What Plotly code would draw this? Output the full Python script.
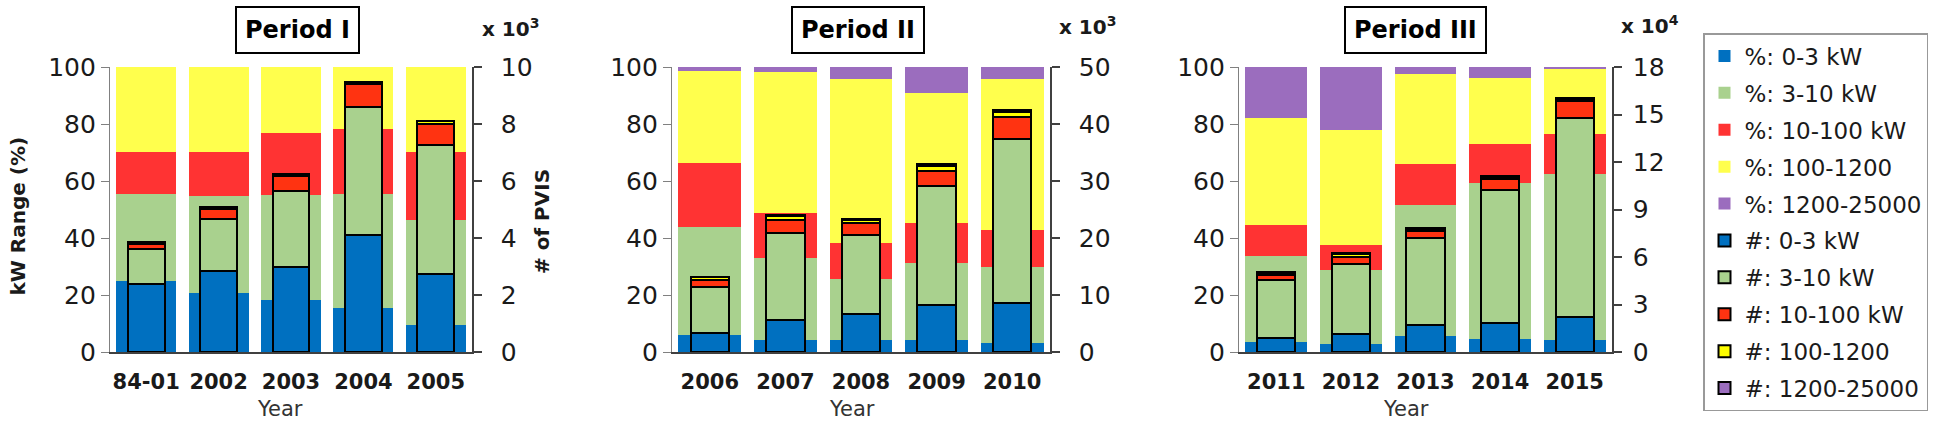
import plotly.graph_objects as go

# ---------------- data ----------------
series = ["0-3 kW", "3-10 kW", "10-100 kW", "100-1200", "1200-25000"]

p1_years = ["84-01", "2002", "2003", "2004", "2005"]
p2_years = ["2006", "2007", "2008", "2009", "2010"]
p3_years = ["2011", "2012", "2013", "2014", "2015"]

# kW range share (%), one list per size class (in series order)
p1_pct = [
    [25.0, 20.7, 18.1, 15.6, 9.6],
    [30.6, 33.9, 36.9, 40.0, 36.6],
    [14.6, 15.6, 22.0, 22.8, 24.0],
    [29.8, 29.8, 23.0, 21.6, 29.8],
    [0.0, 0.0, 0.0, 0.0, 0.0],
]
p2_pct = [
    [6.1, 4.3, 4.3, 4.3, 3.2],
    [37.8, 28.7, 21.4, 27.0, 26.6],
    [22.4, 15.9, 12.5, 14.1, 13.1],
    [32.3, 49.3, 57.7, 45.5, 53.0],
    [1.4, 1.8, 4.1, 9.1, 4.1],
]
p3_pct = [
    [3.5, 2.9, 5.5, 4.7, 4.3],
    [30.1, 25.8, 46.0, 54.6, 58.0],
    [10.8, 9.0, 14.3, 13.6, 14.3],
    [37.7, 40.3, 31.9, 23.4, 22.8],
    [17.9, 22.0, 2.3, 3.7, 0.6],
]

# number of PVIS (Period I & II in 10^3, Period III in 10^4)
p1_cnt = [
    [2.40, 2.84, 2.98, 4.09, 2.75],
    [1.23, 1.84, 2.67, 4.51, 4.50],
    [0.15, 0.35, 0.53, 0.79, 0.74],
    [0.07, 0.06, 0.08, 0.08, 0.11],
    [0.0, 0.0, 0.0, 0.0, 0.0],
]
p2_cnt = [
    [3.3, 5.7, 6.6, 8.2, 8.6],
    [8.1, 15.1, 14.0, 20.9, 28.8],
    [1.2, 2.3, 2.0, 2.7, 3.8],
    [0.5, 0.8, 0.6, 0.8, 0.9],
    [0.1, 0.2, 0.2, 0.3, 0.4],
]
p3_cnt = [
    [0.90, 1.15, 1.69, 1.85, 2.21],
    [3.62, 4.43, 5.53, 8.41, 12.59],
    [0.32, 0.42, 0.42, 0.64, 1.04],
    [0.15, 0.18, 0.15, 0.15, 0.16],
    [0.06, 0.07, 0.06, 0.05, 0.06],
]

titles = ["Period I", "Period II", "Period III"]
right_ranges = [[0, 10], [0, 50], [0, 18]]
right_dticks = [2, 10, 3]
right_exp = ["3", "3", "4"]

# ---------------- styling ----------------
pct_colors = ["#0070C0", "#A9D18E", "#FF3333", "#FFFF4D", "#9B6DBE"]
cnt_colors = ["#0070C0", "#A9D18E", "#FF3311", "#FFFF00", "#9B6DBE"]
FONT = "DejaVu Sans"
TXT = "#1a1a1a"
W, H = 1946, 432

x_domains = [[110 / W, 472 / W], [672 / W, 1050 / W], [1239 / W, 1612 / W]]
y_domain = [1 - 352 / H, 1 - 67 / H]
title_x = [297, 858, 1415]
exp_x = [511, 1087, 1650]
exp_y = [28, 26, 25]
year_x = [280, 852, 1406]
right_standoff = [14, 14, 6]

fig = go.Figure()
panels = [(p1_years, p1_pct, p1_cnt), (p2_years, p2_pct, p2_cnt), (p3_years, p3_pct, p3_cnt)]

for i, (years, pct, cnt) in enumerate(panels):
    xa = "x" if i == 0 else f"x{i + 1}"
    ya = "y" if i == 0 else f"y{2 * i + 1}"
    ya2 = f"y{2 * i + 2}"
    for s in range(5):
        fig.add_trace(go.Bar(
            x=years, y=pct[s], xaxis=xa, yaxis=ya, width=0.83,
            marker=dict(color=pct_colors[s], line=dict(width=0)),
            name="%: " + series[s], legendgroup="pct" + str(s),
            showlegend=(i == 0)))
    for s in range(5):
        fig.add_trace(go.Bar(
            x=years, y=cnt[s], xaxis=xa, yaxis=ya2, width=0.51,
            marker=dict(color=cnt_colors[s], line=dict(color="black", width=2)),
            name="#: " + series[s], legendgroup="cnt" + str(s),
            showlegend=(i == 0)))

layout = dict(
    width=W, height=H, autosize=False, barmode="stack",
    margin=dict(l=0, r=0, t=0, b=0, pad=0, autoexpand=False),
    paper_bgcolor="white", plot_bgcolor="white",
    font=dict(family=FONT, color=TXT),
    legend=dict(
        x=1703 / W, y=1 - 33 / H, xanchor="left", yanchor="top",
        font=dict(family=FONT, size=23, color=TXT),
        bordercolor="#999999", borderwidth=1.5, bgcolor="white",
        traceorder="grouped", tracegroupgap=4),
    annotations=[],
)

for i in range(3):
    xk = "xaxis" if i == 0 else f"xaxis{i + 1}"
    yk = "yaxis" if i == 0 else f"yaxis{2 * i + 1}"
    y2k = f"yaxis{2 * i + 2}"
    xid = "x" if i == 0 else f"x{i + 1}"
    yid = "y" if i == 0 else f"y{2 * i + 1}"
    layout[xk] = dict(
        domain=x_domains[i], anchor=yid, type="category", range=[-0.5, 4.5],
        showline=True, linecolor="#404040", linewidth=2, ticks="",
        showgrid=False, zeroline=False, ticklabelstandoff=10, automargin=False,
        tickfont=dict(family=FONT, size=21, color=TXT, weight="bold"))
    layout[yk] = dict(
        domain=y_domain, anchor=xid, range=[0, 100], dtick=20,
        showline=True, linecolor="#808080", linewidth=1.3,
        ticks="outside", ticklen=8, tickcolor="#808080", tickwidth=1.3,
        showgrid=False, zeroline=False, automargin=False,
        tickfont=dict(family=FONT, size=25, color=TXT))
    layout[y2k] = dict(
        overlaying=yid, anchor=xid, side="right",
        range=right_ranges[i], dtick=right_dticks[i],
        showline=True, linecolor="#404040", linewidth=1.6,
        ticks="outside", ticklen=8, tickcolor="#404040", tickwidth=1.6,
        showgrid=False, zeroline=False, ticklabelstandoff=right_standoff[i],
        automargin=False,
        tickfont=dict(family=FONT, size=25, color=TXT))

    layout["annotations"].append(dict(
        x=title_x[i] / W, y=1 - 30 / H, xref="paper", yref="paper",
        text="<b>" + titles[i] + "</b>", showarrow=False,
        font=dict(family=FONT, size=24, color="black"),
        bordercolor="black", borderwidth=2, borderpad=8, bgcolor="white",
        xanchor="center", yanchor="middle"))
    layout["annotations"].append(dict(
        x=exp_x[i] / W, y=1 - exp_y[i] / H, xref="paper", yref="paper",
        text="<b>x 10<sup>" + right_exp[i] + "</sup></b>", showarrow=False,
        font=dict(family=FONT, size=20, color=TXT),
        xanchor="center", yanchor="middle"))
    layout["annotations"].append(dict(
        x=year_x[i] / W, y=1 - 409 / H, xref="paper", yref="paper",
        text="Year", showarrow=False,
        font=dict(family=FONT, size=21, color="#333333"),
        xanchor="center", yanchor="middle"))

layout["annotations"].append(dict(
    x=17.5 / W, y=1 - 216 / H, xref="paper", yref="paper",
    text="<b>kW Range (%)</b>", showarrow=False, textangle=-90,
    font=dict(family=FONT, size=20, color=TXT),
    xanchor="center", yanchor="middle"))
layout["annotations"].append(dict(
    x=542 / W, y=1 - 222 / H, xref="paper", yref="paper",
    text="<b># of PVIS</b>", showarrow=False, textangle=-90,
    font=dict(family=FONT, size=20, color=TXT),
    xanchor="center", yanchor="middle"))

fig.update_layout(**layout)
fig.write_html(
    "out.html",
    config={"displayModeBar": False},
    post_script="document.body.style.margin='0px';document.body.style.overflow='hidden';")
